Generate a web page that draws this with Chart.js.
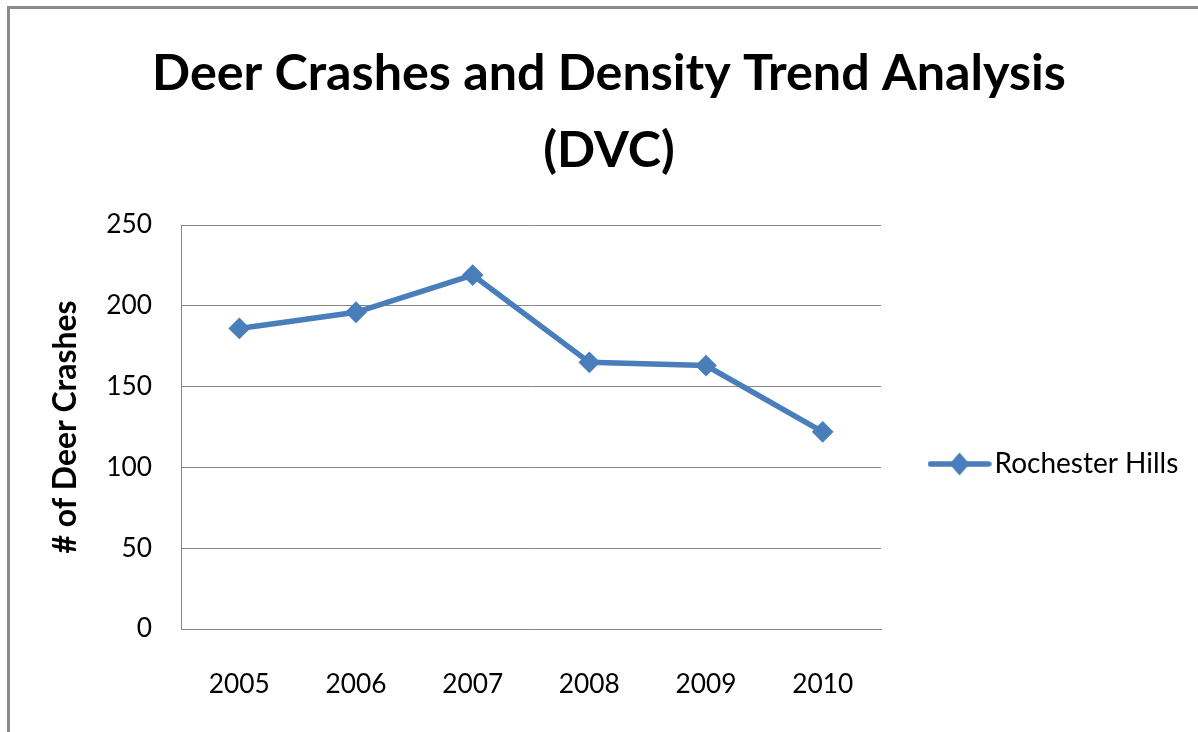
<!DOCTYPE html>
<html><head><meta charset="utf-8">
<script src="https://cdn.jsdelivr.net/npm/chart.js@4.4.0/dist/chart.umd.min.js"></script>
<style>
html,body{margin:0;padding:0;background:#fff;overflow:hidden}
#frame{position:absolute;left:7px;top:6px;border-left:3px solid #8a8a8a;border-top:3px solid #8a8a8a;width:1188px;height:723px}
canvas{display:block}
</style></head><body>
<div id="frame"><canvas id="c" width="1188" height="723"></canvas></div>
<script>
// ---- data ----
const titleLines = ['Deer Crashes and Density Trend Analysis', '(DVC)'];
const yAxisTitle = '# of Deer Crashes';
const categories = ['2005', '2006', '2007', '2008', '2009', '2010'];
const seriesName = 'Rochester Hills';
const crashes = [186, 196, 219, 165, 163, 122];
const yTicks = [0, 50, 100, 150, 200, 250];

// ---- styling / layout helpers ----
const FAMILY = 'Lato, "Open Sans", sans-serif';
const BLUE = '#4a7ebb';
const GRID = '#878787';
const mctx = document.createElement('canvas').getContext('2d');
function textW(text, weight, size) { mctx.font = weight + ' ' + size + 'px ' + FAMILY; return mctx.measureText(text).width; }
function fitSize(text, weight, target) { return 100 * target / textW(text, weight, 100); }

const titleSize = fitSize(titleLines[0], 'bold', 914);
const tickSize = fitSize('2005', 'normal', 61);
const legendSize = fitSize(seriesName, 'normal', 184);
const yTitleSize = fitSize(yAxisTitle, 'bold', 253);

// canvas coords (canvas starts at page x=10, y=9)
const CW = 1188, CH = 723;
const padL = 55, padR = 45;
const areaTop = 216, areaBottom = 620, areaLeft = 171;
const titleLH = 77.5;
const titlePadTop = 64.5 - titleLH / 2;
const titlePadBottom = areaTop - titlePadTop - titleLines.length * titleLH;

const yTitleLH = yTitleSize * 1.2;
const yTickPad = 29;
const yTitlePadTop = 56 - padL - yTitleLH / 2;
const yAxisWidth = areaLeft - padL;

const tickLH = tickSize * 1.2;
const xTickPad = 676 - areaBottom - tickLH / 2;
const xAxisHeight = CH - areaBottom;

// legend geometry
const iconW = 64, iconH = 26;
const legB = 70 - legendSize;
const legP = 78.5 - legB / 2;
const icon = document.createElement('canvas');
icon.width = iconW; icon.height = iconH;
(function () {
  const g = icon.getContext('2d');
  g.strokeStyle = BLUE; g.fillStyle = BLUE; g.lineWidth = 5.5; g.lineCap = 'round';
  g.beginPath(); g.moveTo(3, iconH / 2); g.lineTo(iconW - 3, iconH / 2); g.stroke();
  g.beginPath();
  g.moveTo(iconW / 2, iconH / 2 - 11.5); g.lineTo(iconW / 2 + 10, iconH / 2);
  g.lineTo(iconW / 2, iconH / 2 + 11.5); g.lineTo(iconW / 2 - 10, iconH / 2);
  g.closePath(); g.fill();
})();

// let the legend box reach the canvas' right edge so its label is not clipped
const legendWiden = {
  id: 'legendWiden',
  afterLayout: function (chart) {
    if (chart.legend) { chart.legend.right = chart.width; chart.legend.width = chart.legend.right - chart.legend.left; }
  }
};

new Chart(document.getElementById('c'), {
  type: 'line',
  plugins: [legendWiden],
  data: {
    labels: categories,
    datasets: [{
      label: seriesName,
      data: crashes,
      borderColor: BLUE,
      backgroundColor: BLUE,
      borderWidth: 5.5,
      tension: 0,
      pointStyle: 'rectRot',
      pointRadius: 9.5,
      pointBorderWidth: 2,
      pointBackgroundColor: BLUE,
      pointBorderColor: BLUE,
      clip: false
    }]
  },
  options: {
    responsive: false,
    animation: false,
    devicePixelRatio: 1,
    events: [],
    layout: { padding: { left: padL, right: padR, top: 0, bottom: 0 } },
    plugins: {
      tooltip: { enabled: false },
      title: {
        display: true,
        text: titleLines,
        color: '#000',
        font: { family: FAMILY, size: titleSize, weight: 'bold', lineHeight: titleLH / titleSize },
        padding: { top: titlePadTop, bottom: titlePadBottom }
      },
      legend: {
        display: true,
        position: 'right',
        fullSize: false,
        title: { display: true, text: ' ', font: { size: 10, lineHeight: 1 }, padding: { top: 32, bottom: 32 } },
        labels: {
          usePointStyle: true,
          pointStyleWidth: legB,
          padding: legP,
          textAlign: 'left',
          color: '#000',
          font: { family: FAMILY, size: legendSize },
          generateLabels: function (chart) {
            const items = Chart.defaults.plugins.legend.labels.generateLabels(chart);
            items.forEach(function (it) { it.pointStyle = icon; it.rotation = 0; });
            return items;
          }
        }
      }
    },
    scales: {
      x: {
        offset: true,
        afterFit: function (s) { s.height = xAxisHeight; },
        grid: { display: false, drawTicks: false },
        border: { display: true, color: GRID, width: 1 },
        ticks: { padding: xTickPad, color: '#000', font: { family: FAMILY, size: tickSize } }
      },
      y: {
        min: yTicks[0],
        max: yTicks[yTicks.length - 1],
        afterBuildTicks: function (s) { s.ticks = yTicks.map(function (v) { return { value: v }; }); },
        afterFit: function (s) { s.width = yAxisWidth; },
        grid: { color: GRID, lineWidth: 1, drawTicks: false },
        border: { display: true, color: GRID, width: 1 },
        ticks: { padding: yTickPad, color: '#000', font: { family: FAMILY, size: tickSize } },
        title: {
          display: true,
          text: yAxisTitle,
          color: '#000',
          font: { family: FAMILY, size: yTitleSize, weight: 'bold', lineHeight: 1.2 },
          padding: { top: yTitlePadTop, bottom: 0 }
        }
      }
    }
  }
});
</script>
</body></html>
